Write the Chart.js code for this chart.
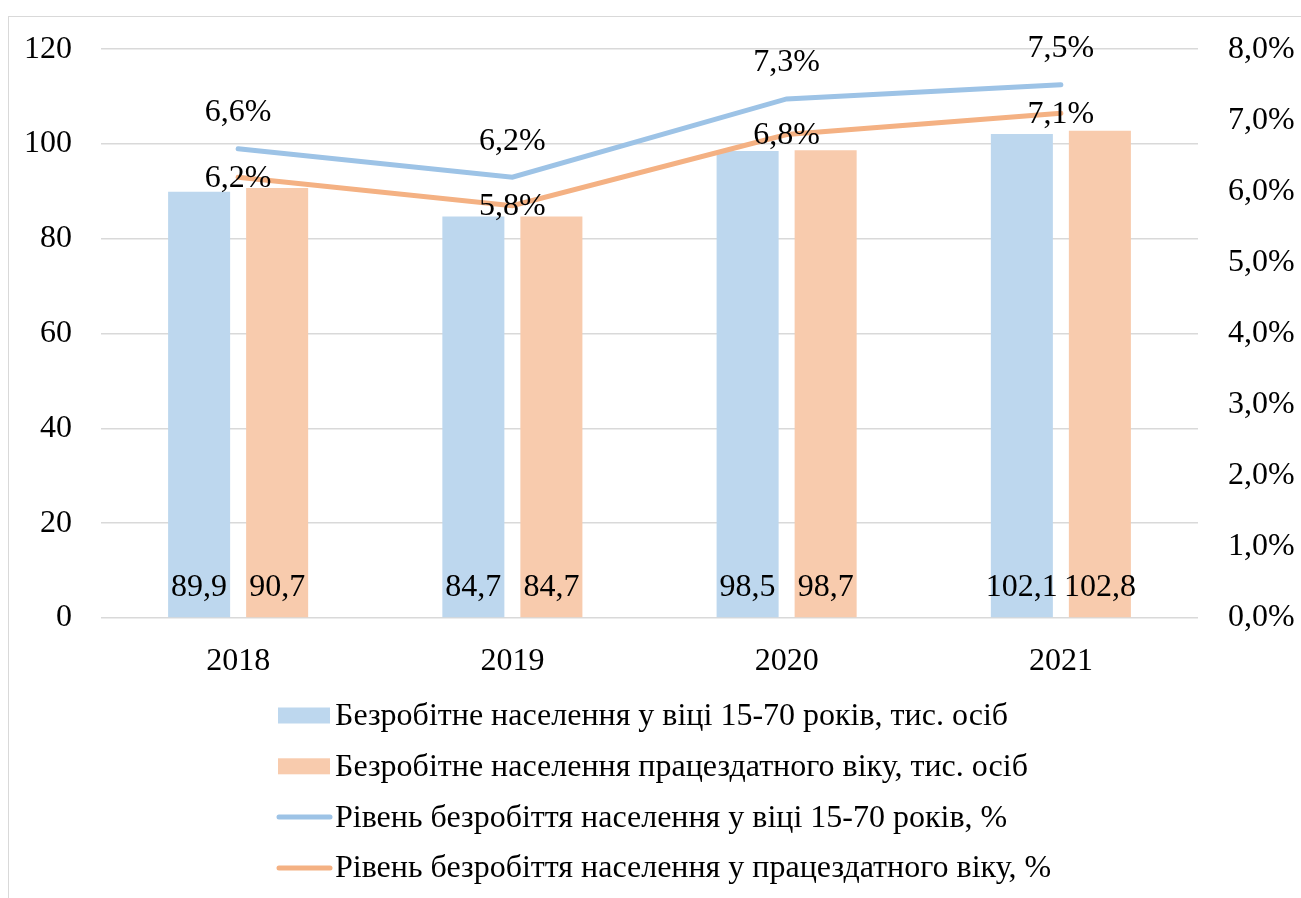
<!DOCTYPE html>
<html>
<head>
<meta charset="utf-8">
<script src="https://cdn.jsdelivr.net/npm/chart.js@4/dist/chart.umd.min.js"></script>
<style>
html, body { margin: 0; padding: 0; background: #fff; }
#wrap { position: relative; width: 1301px; height: 898px; overflow: hidden; }
#frame { position: absolute; left: 8px; top: 16px; width: 1400px; height: 1000px; border: 1.5px solid #d9d9d9; }
canvas { position: absolute; left: 0; top: 0; }
</style>
</head>
<body>
<div id="wrap">
  <div id="frame"></div>
  <canvas id="chart" width="1301" height="898"></canvas>
</div>
<script>
const years = ['2018', '2019', '2020', '2021'];
const unemployed1570 = [89.9, 84.7, 98.5, 102.1];
const unemployedWorkAge = [90.7, 84.7, 98.7, 102.8];
const rate1570 = [6.6, 6.2, 7.3, 7.5];
const rateWorkAge = [6.2, 5.8, 6.8, 7.1];

const seriesNames = [
    'Безробітне населення у віці 15-70 років, тис. осіб',
    'Безробітне населення працездатного віку, тис. осіб',
    'Рівень безробіття населення у віці 15-70 років, %',
    'Рівень безробіття населення у працездатного віку, %'
];

const FONT = "'Liberation Serif', 'Times New Roman', serif";
const FSIZE = 32;

function comma(v, d) {
    return v.toFixed(d).replace('.', ',');
}

// value labels on bars and lines
const valueLabels = {
    id: 'valueLabels',
    afterDatasetsDraw(chart) {
        const ctx = chart.ctx;
        ctx.save();
        ctx.font = `${FSIZE}px ${FONT}`;
        ctx.fillStyle = '#000';
        ctx.textAlign = 'center';
        ctx.textBaseline = 'middle';
        chart.data.datasets.forEach((ds, i) => {
            const meta = chart.getDatasetMeta(i);
            meta.data.forEach((el, j) => {
                const v = ds.data[j];
                if (ds.type === 'line') {
                    const y = i === 2 ? el.y - 36 : el.y + 1;
                    ctx.fillText(comma(v, 1) + '%', el.x, y);
                } else {
                    ctx.fillText(comma(v, 1), el.x, chart.chartArea.bottom - 30);
                }
            });
        });
        ctx.restore();
    }
};

// legend stacked in rows, left aligned
const rowLegend = {
    id: 'rowLegend',
    afterDraw(chart) {
        const ctx = chart.ctx;
        const x0 = 278, top = 715.5, gap = 50.8;
        ctx.save();
        ctx.font = `${FSIZE}px ${FONT}`;
        ctx.textBaseline = 'middle';
        ctx.textAlign = 'left';
        chart.data.datasets.forEach((ds, i) => {
            const y = top + i * gap;
            if (ds.type === 'line') {
                ctx.strokeStyle = ds.borderColor;
                ctx.lineWidth = 5;
                ctx.lineCap = 'round';
                ctx.beginPath();
                ctx.moveTo(x0 + 1, y);
                ctx.lineTo(x0 + 52, y);
                ctx.stroke();
            } else {
                ctx.fillStyle = ds.backgroundColor;
                ctx.fillRect(x0, y - 8, 52, 16);
            }
            ctx.fillStyle = '#000';
            ctx.fillText(ds.label, x0 + 57, y + 1);
        });
        ctx.restore();
    }
};

new Chart(document.getElementById('chart'), {
    type: 'bar',
    data: {
        labels: years,
        datasets: [
            { label: seriesNames[0], data: unemployed1570, backgroundColor: '#BDD7EE', yAxisID: 'y', order: 2,
              categoryPercentage: 0.569, barPercentage: 0.795 },
            { label: seriesNames[1], data: unemployedWorkAge, backgroundColor: '#F8CBAD', yAxisID: 'y', order: 2,
              categoryPercentage: 0.569, barPercentage: 0.795 },
            { type: 'line', label: seriesNames[2], data: rate1570, borderColor: '#9DC3E6', backgroundColor: '#9DC3E6',
              borderWidth: 5, pointRadius: 0, tension: 0, yAxisID: 'y1', order: 1, borderCapStyle: 'round' },
            { type: 'line', label: seriesNames[3], data: rateWorkAge, borderColor: '#F4B183', backgroundColor: '#F4B183',
              borderWidth: 5, pointRadius: 0, tension: 0, yAxisID: 'y1', order: 0, borderCapStyle: 'round' }
        ]
    },
    options: {
        responsive: false,
        animation: false,
        layout: { padding: { top: 47, bottom: 200, left: 0, right: 0 } },
        plugins: {
            legend: { display: false },
            tooltip: { enabled: false }
        },
        scales: {
            x: {
                grid: { display: false },
                border: { display: false },
                ticks: { color: '#000', font: { family: FONT, size: FSIZE }, padding: 16 },
                afterFit: s => { s.height = 80; }
            },
            y: {
                position: 'left',
                min: 0, max: 120,
                grid: { color: '#d9d9d9', lineWidth: 1.5, drawTicks: false },
                border: { display: false },
                ticks: { stepSize: 20, color: '#000', font: { family: FONT, size: FSIZE }, padding: 29 },
                afterFit: s => { s.width = 101; }
            },
            y1: {
                position: 'right',
                min: 0, max: 8,
                grid: { display: false, drawTicks: false },
                border: { display: false },
                ticks: { stepSize: 1, color: '#000', font: { family: FONT, size: FSIZE }, padding: 30,
                         callback: v => comma(v, 1) + '%' },
                afterFit: s => { s.width = 103; }
            }
        }
    },
    plugins: [valueLabels, rowLegend]
});
</script>
</body>
</html>
